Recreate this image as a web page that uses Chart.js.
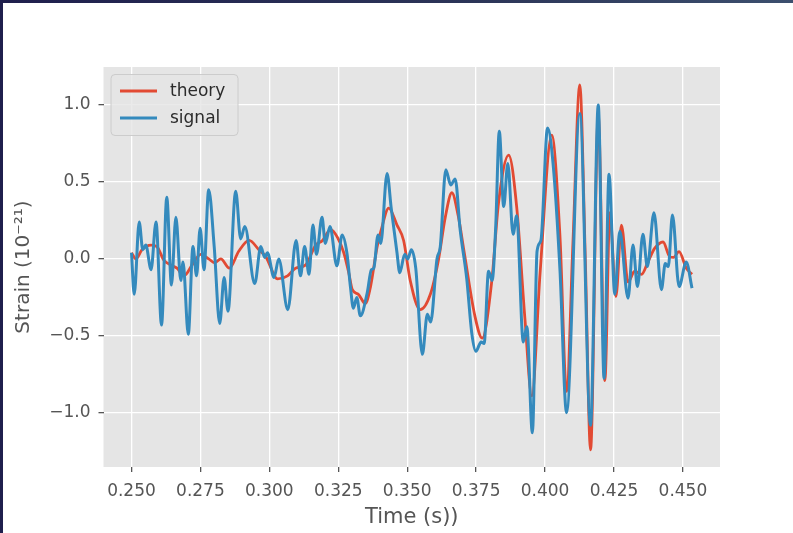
<!DOCTYPE html>
<html>
<head>
<meta charset="utf-8">
<script src="https://cdn.jsdelivr.net/npm/chart.js@4.4.1/dist/chart.umd.min.js"></script>
<style>
  html, body { margin: 0; padding: 0; background: #fff; }
  #wrap { position: relative; width: 793px; height: 533px; overflow: hidden; }
  #topbar { position: absolute; left: 0; top: 0; width: 793px; height: 3px;
            background: linear-gradient(to right, #1f1f4d, #2c3558 60%, #3c4f6e); }
  #leftbar { position: absolute; left: 0; top: 0; width: 3px; height: 533px; background: #1f1f4d; }
  canvas { position: absolute; left: 0; top: 0; }
</style>
</head>
<body>
<div id="wrap">
  <canvas id="myChart" width="793" height="533"></canvas>
  <div id="topbar"></div>
  <div id="leftbar"></div>
</div>
<script>
// tick labels
const xTicks = [0.250, 0.275, 0.300, 0.325, 0.350, 0.375, 0.400, 0.425, 0.450];
const yTicks = [-1.0, -0.5, 0.0, 0.5, 1.0];

// theory curve (time in s, strain in 1e-21)
const theoryTime = [0.2500, 0.2516, 0.2538, 0.2571, 0.2592, 0.2618, 0.2643, 0.2665, 0.2690, 0.2723,
    0.2751, 0.2780, 0.2802, 0.2824, 0.2855, 0.2889, 0.2927, 0.2962, 0.2987, 0.3030,
    0.3066, 0.3095, 0.3131, 0.3168, 0.3193, 0.3222, 0.3247, 0.3270, 0.3288, 0.3301,
    0.3323, 0.3348, 0.3367, 0.3391, 0.3406, 0.3433, 0.3463, 0.3487, 0.3511, 0.3547,
    0.3584, 0.3614, 0.3638, 0.3662, 0.3685, 0.3707, 0.3746, 0.3772, 0.3807, 0.3831,
    0.3868, 0.3897, 0.3927, 0.3952, 0.3982, 0.4024, 0.4054, 0.4078, 0.4101, 0.4126,
    0.4146, 0.4165, 0.4193, 0.4217, 0.4235, 0.4257, 0.4277, 0.4301, 0.4325, 0.4350,
    0.4373, 0.4398, 0.4428, 0.4452, 0.4466, 0.4486, 0.4512, 0.4533];
const theoryStrain = [0.04, 0.0, 0.06, 0.09, 0.08, -0.01, -0.04, -0.06, -0.11, -0.03,
    0.03, 0.0, -0.025, 0.0, -0.06, 0.05, 0.12, 0.06, 0.015, -0.13,
    -0.11, -0.06, -0.04, 0.09, 0.12, 0.19, 0.14, 0.04, -0.09, -0.2,
    -0.23, -0.29, -0.18, 0.08, 0.19, 0.33, 0.22, 0.12, -0.14, -0.33,
    -0.23, 0.0, 0.27, 0.43, 0.28, 0.04, -0.375, -0.515, -0.14, 0.36,
    0.675, 0.34, -0.39, -0.89, -0.09, 0.805, 0.15, -0.86, 0.1, 1.13,
    0.0, -1.24, 0.93, -0.79, 0.3, -0.245, 0.22, -0.15, -0.08, -0.1,
    -0.02, 0.07, 0.11, 0.015, 0.01, 0.047, -0.06, -0.10];

// measured signal
const signalTime = [0.2500, 0.2510, 0.2528, 0.2541, 0.2552, 0.2571, 0.2589, 0.2609, 0.2628, 0.2645,
    0.2661, 0.2679, 0.2687, 0.2706, 0.2723, 0.2736, 0.2749, 0.2763, 0.2780, 0.2800,
    0.2820, 0.2836, 0.2850, 0.2878, 0.2896, 0.2911, 0.2947, 0.2969, 0.2983, 0.2993,
    0.3017, 0.3034, 0.3067, 0.3097, 0.3113, 0.3128, 0.3144, 0.3158, 0.3171, 0.3191,
    0.3203, 0.3220, 0.3245, 0.3264, 0.3282, 0.3294, 0.3305, 0.3317, 0.3330, 0.3355,
    0.3370, 0.3379, 0.3394, 0.3404, 0.3427, 0.3442, 0.3463, 0.3473, 0.3491, 0.3502,
    0.3515, 0.3531, 0.3555, 0.3573, 0.3585, 0.3608, 0.3620, 0.3640, 0.3658, 0.3674,
    0.3692, 0.3716, 0.3734, 0.3749, 0.3768, 0.3779, 0.3795, 0.3808, 0.3821, 0.3834,
    0.3850, 0.3865, 0.3884, 0.3897, 0.3921, 0.3934, 0.3954, 0.3971, 0.3985, 0.4009,
    0.4030, 0.4054, 0.4078, 0.4126, 0.4165, 0.4193, 0.4214, 0.4232, 0.4253, 0.4271,
    0.4301, 0.4319, 0.4335, 0.4355, 0.4371, 0.4395, 0.4422, 0.4436, 0.4447, 0.4462,
    0.4486, 0.4512, 0.4533];
const signalStrain = [0.04, -0.23, 0.24, 0.06, 0.09, -0.07, 0.24, -0.43, 0.40, -0.17,
    0.27, -0.14, -0.02, -0.49, 0.08, -0.11, 0.20, -0.07, 0.45, 0.08,
    -0.42, -0.12, -0.34, 0.44, 0.13, 0.21, -0.16, 0.08, 0.01, 0.04,
    -0.12, 0.0, -0.33, 0.12, -0.11, 0.08, -0.10, 0.22, 0.03, 0.27,
    0.10, 0.21, -0.045, 0.155, 0.03, -0.18, -0.32, -0.25, -0.37, -0.22,
    -0.07, -0.06, 0.155, 0.10, 0.555, 0.33, 0.04, -0.09, 0.03, 0.0,
    0.06, -0.06, -0.62, -0.36, -0.41, 0.0, 0.08, 0.58, 0.48, 0.52,
    0.19, -0.13, -0.48, -0.60, -0.54, -0.55, -0.08, -0.14, 0.21, 0.83,
    0.34, 0.62, 0.16, 0.28, -0.54, -0.44, -1.13, 0.05, 0.12, 0.85,
    0.60, -0.07, -1.0, 0.945, -1.08, 1.0, -0.775, 0.55, -0.23, 0.18,
    -0.255, 0.09, -0.18, 0.16, -0.05, 0.30, -0.20, -0.03, -0.05, 0.285,
    -0.18, -0.02, -0.19];

const toPoints = (xs, ys) => xs.map((x, i) => ({ x: x, y: ys[i] }));

const fontFamily = "'DejaVu Sans', sans-serif";

// grey panel behind grid (ggplot look)
const panelBg = {
    id: "panelBg",
    beforeDraw(chart) {
        const a = chart.chartArea, c = chart.ctx;
        c.save();
        c.fillStyle = "#E5E5E5";
        c.fillRect(a.left, a.top, a.right - a.left, a.bottom - a.top);
        c.restore();
    }
};

// legend box in the upper left of the plot
const insideLegend = {
    id: "insideLegend",
    afterDraw(chart) {
        const a = chart.chartArea, c = chart.ctx;
        const x = a.left + 7.5, y = a.top + 7.5, w = 127, h = 61, r = 4;
        c.save();
        c.beginPath();
        c.roundRect(x, y, w, h, r);
        c.fillStyle = "rgba(229,229,229,0.8)";
        c.fill();
        c.strokeStyle = "#cccccc";
        c.lineWidth = 1;
        c.stroke();
        const items = [chart.data.datasets[0], chart.data.datasets[1]];
        items.forEach((ds, i) => {
            const ly = y + 16.5 + i * 27;
            c.beginPath();
            c.moveTo(x + 9, ly);
            c.lineTo(x + 46, ly);
            c.strokeStyle = ds.borderColor;
            c.lineWidth = ds.borderWidth;
            c.stroke();
            c.fillStyle = "#2b2b2b";
            c.font = "17px " + fontFamily;
            c.textBaseline = "middle";
            c.fillText(ds.label, x + 59, ly + 1);
        });
        c.restore();
    }
};

const ctx = document.getElementById("myChart").getContext("2d");
const myChart = new Chart(ctx, {
    type: "line",
    data: {
        datasets: [
            {
                label: "theory",
                data: toPoints(theoryTime, theoryStrain),
                borderColor: "#E24A33",
                borderWidth: 2.8,
                pointRadius: 0,
                cubicInterpolationMode: "monotone",
                order: 2,
            },
            {
                label: "signal",
                data: toPoints(signalTime, signalStrain),
                borderColor: "#348ABD",
                borderWidth: 3,
                pointRadius: 0,
                cubicInterpolationMode: "monotone",
                order: 1,
            },
        ],
    },
    options: {
        responsive: false,
        animation: false,
        events: [],
        layout: { padding: { left: 0, right: 73, top: 67, bottom: 0 } },
        plugins: {
            legend: { display: false },
            tooltip: { enabled: false },
        },
        scales: {
            x: {
                type: "linear",
                min: 0.23985,
                max: 0.46345,
                afterBuildTicks: (scale) => { scale.ticks = xTicks.map(v => ({ value: v })); },
                afterFit: (scale) => { scale.height = 66; },
                border: { display: false },
                grid: { color: "#ffffff", lineWidth: 1.3, tickColor: "#555555", tickLength: 5 },
                ticks: {
                    color: "#555555",
                    font: { family: fontFamily, size: 17 },
                    padding: 9,
                    maxRotation: 0,
                    autoSkip: false,
                    callback: (v) => v.toFixed(3),
                },
                title: {
                    display: true,
                    text: "Time (s))",
                    color: "#555555",
                    font: { family: fontFamily, size: 21 },
                    padding: { top: 0, bottom: 3 },
                },
            },
            y: {
                min: -1.352,
                max: 1.247,
                afterBuildTicks: (scale) => { scale.ticks = yTicks.map(v => ({ value: v })); },
                afterFit: (scale) => { scale.width = 103.5; },
                border: { display: false },
                grid: { color: "#ffffff", lineWidth: 1.3, tickColor: "#555555", tickLength: 5 },
                ticks: {
                    color: "#555555",
                    font: { family: fontFamily, size: 17 },
                    padding: 8,
                    callback: (v) => (v < 0 ? "\u2212" : "") + Math.abs(v).toFixed(1),
                },
                title: {
                    display: true,
                    text: "Strain (10\u207B\u00B2\u00B9)",
                    color: "#555555",
                    font: { family: fontFamily, size: 20 },
                    padding: { top: 12, bottom: 0 },
                },
            },
        },
    },
    plugins: [panelBg, insideLegend],
});
</script>
</body>
</html>
